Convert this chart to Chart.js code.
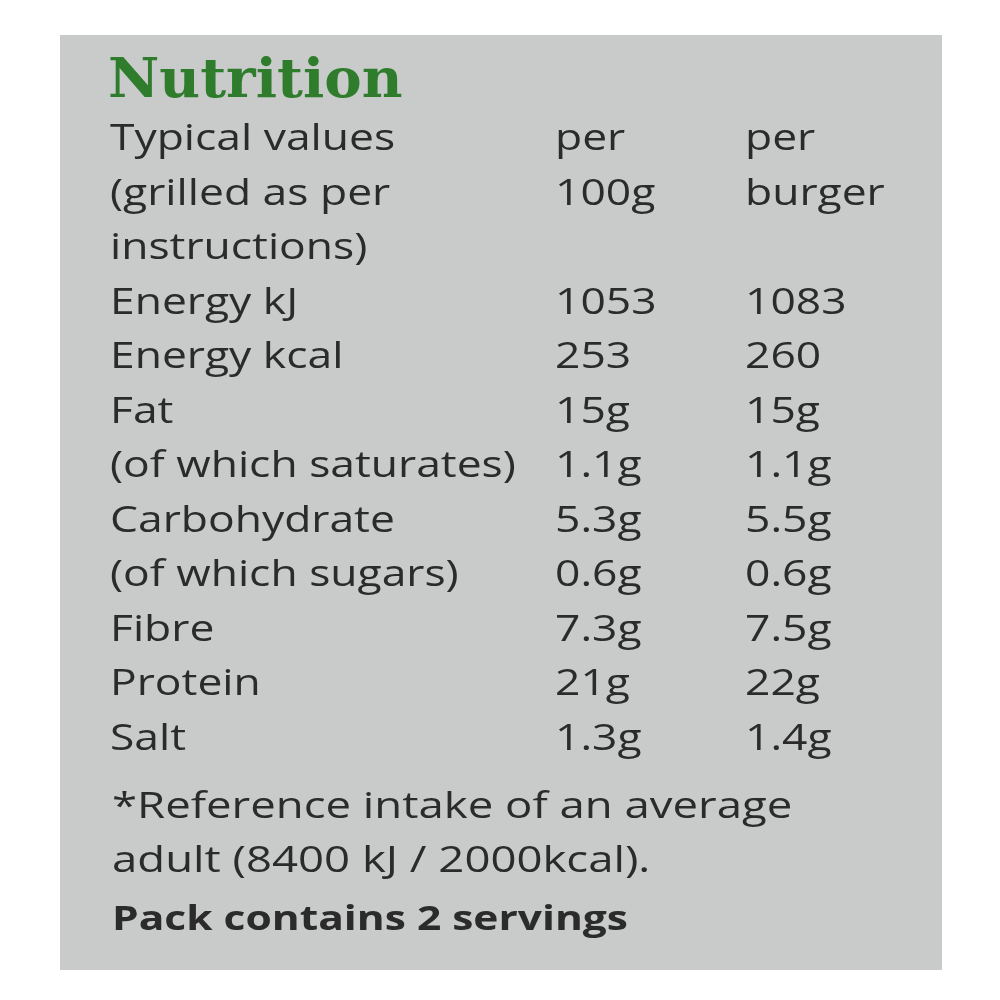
<!DOCTYPE html>
<html><head><meta charset="utf-8">
<script src="https://cdn.jsdelivr.net/npm/chart.js@4"></script>
<style>html,body{margin:0;padding:0;background:#fff}</style>
</head><body>
<canvas id="c" width="1000" height="1000"></canvas>
<script>
const title = "Nutrition";
const headerLabels = ["Typical values", "(grilled as per", "instructions)"];
const headerPer100 = ["per", "100g", ""];
const headerPerBurger = ["per", "burger", ""];
const nutrients = ["Energy kJ","Energy kcal","Fat","(of which saturates)","Carbohydrate","(of which sugars)","Fibre","Protein","Salt"];
const per100g = ["1053","253","15g","1.1g","5.3g","0.6g","7.3g","21g","1.3g"];
const perBurger = ["1083","260","15g","1.1g","5.5g","0.6g","7.5g","22g","1.4g"];
const footnote = ["*Reference intake of an average", "adult (8400 kJ / 2000kcal)."];
const packNote = "Pack contains 2 servings";

function fillScaled(ctx, text, x, y, sx) {
  ctx.save();
  ctx.translate(x, y);
  ctx.scale(sx, 1);
  ctx.fillText(text, 0, 0);
  ctx.restore();
}

const labelPlugin = {
  id: 'label',
  beforeDraw(chart) {
    const ctx = chart.ctx;
    ctx.save();
    ctx.fillStyle = '#fff'; ctx.fillRect(0,0,1000,1000);
    ctx.fillStyle = '#c8cbca'; ctx.fillRect(60,35,882,935);
    ctx.fillStyle = '#2f7d2c';
    ctx.font = 'bold 54px "DejaVu Serif"';
    ctx.textBaseline = 'alphabetic';
    fillScaled(ctx, title, 108, 97, 1.04);
    ctx.fillStyle = '#2b2b2b';
    ctx.font = '37px "Open Sans"';
    const sx = 1.2;
    const rowH = 54.5;
    for (let i = 0; i < headerLabels.length; i++) {
      const yy = 150 + i*rowH;
      fillScaled(ctx, headerLabels[i], 110, yy, sx);
      fillScaled(ctx, headerPer100[i], 555, yy, sx);
      fillScaled(ctx, headerPerBurger[i], 745, yy, sx);
    }
    for (let i = 0; i < nutrients.length; i++) {
      const yy = 150 + (i+3)*rowH;
      fillScaled(ctx, nutrients[i], 110, yy, sx);
      fillScaled(ctx, per100g[i], 555, yy, sx);
      fillScaled(ctx, perBurger[i], 745, yy, sx);
    }
    fillScaled(ctx, footnote[0], 112, 818, 1.23);
    fillScaled(ctx, footnote[1], 112, 872, 1.23);
    ctx.font = 'bold 34px "Open Sans"';
    fillScaled(ctx, packNote, 112, 930, 1.25);
    ctx.restore();
  }
};

new Chart(document.getElementById('c'), {
  type: 'scatter',
  data: { datasets: [{ data: [], label: title }] },
  options: {
    responsive: false, animation: false, devicePixelRatio: 1,
    plugins: { legend: { display: false }, tooltip: { enabled: false } },
    scales: { x: { display: false }, y: { display: false } }
  },
  plugins: [labelPlugin]
});
</script>
</body></html>
